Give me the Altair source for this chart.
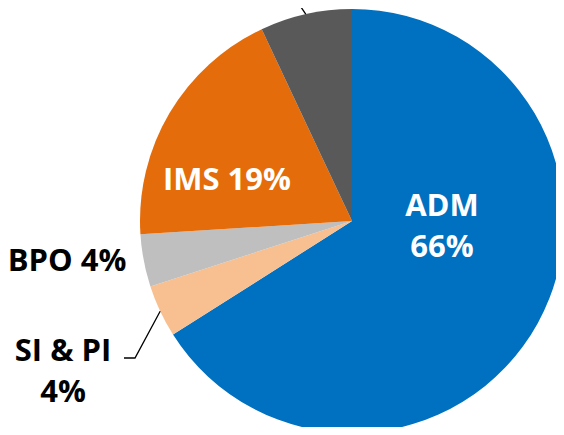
import math
import altair as alt
import pandas as pd

categories = ["ADM", "SI & PI", "BPO", "IMS", "Other"]
shares = [66, 4, 4, 19, 7]
colors = ["#0070C0", "#F8C090", "#BFBFBF", "#E46C0A", "#595959"]

W, H = 548, 419
CX, CY, R = 344, 213, 212
FONT = "Open Sans"
FS = 31
LH = 41

df = pd.DataFrame({"cat": categories, "share": shares, "idx": list(range(len(categories)))})

pie = alt.Chart(df).mark_arc(stroke=None, radius=R).encode(
    theta=alt.Theta("share:Q", stack=True, scale=alt.Scale(domain=[0, sum(shares)])),
    order=alt.Order("idx:Q"),
    color=alt.Color("cat:N", scale=alt.Scale(domain=categories, range=colors), legend=None),
    x=alt.value(CX),
    y=alt.value(CY),
)

# label layout (offsets of first line from pie centre), text colour
layout = {
    "ADM": (90, -14, "white", ["ADM", "66%"]),
    "IMS": (-125, -40, "white", ["IMS 19%"]),
    "BPO": (-285, 41, "black", ["BPO 4%"]),
    "SI & PI": (-289, 131, "black", ["SI & PI", "4%"]),
}
rows = []
for c, s in zip(categories, shares):
    if c in layout:
        dx, dy, col, lines = layout[c]
        rows.append({"x": CX + dx, "y": CY + dy, "col": col, "txt": lines})
lab = pd.DataFrame(rows)

labels = alt.Chart(lab).mark_text(
    font=FONT, fontSize=FS, fontWeight="bold", align="center", baseline="middle", lineHeight=LH
).encode(
    x=alt.X("x:Q", scale=None),
    y=alt.Y("y:Q", scale=None),
    text="txt",
    color=alt.Color("col:N", scale=None),
)

# leader lines: start at slice mid-angle on the rim
total = sum(shares)
cum = 0
mids = {}
for c, s in zip(categories, shares):
    mids[c] = (cum + s / 2) / total * 2 * math.pi
    cum += s

def rim(c):
    a = mids[c]
    return CX + R * math.sin(a), CY - R * math.cos(a)

lead = []
sx, sy = rim("SI & PI")
lead += [{"g": "si", "o": 0, "x": sx, "y": sy},
         {"g": "si", "o": 1, "x": CX - 217, "y": CY + 137},
         {"g": "si", "o": 2, "x": CX - 228, "y": CY + 137}]
ox, oy = rim("Other")
lead += [{"g": "ot", "o": 0, "x": ox, "y": oy},
         {"g": "ot", "o": 1, "x": CX - 62, "y": CY - 230}]
ld = pd.DataFrame(lead)

leaders = alt.Chart(ld).mark_line(color="black", strokeWidth=1.3).encode(
    x=alt.X("x:Q", scale=None),
    y=alt.Y("y:Q", scale=None),
    detail="g:N",
    order="o:Q",
)

chart = alt.layer(pie, leaders, labels).properties(
    width=W, height=H, padding=0, autosize="none"
).configure_view(stroke=None)

chart.save("out.html", embed_options={"renderer": "svg", "actions": False})
